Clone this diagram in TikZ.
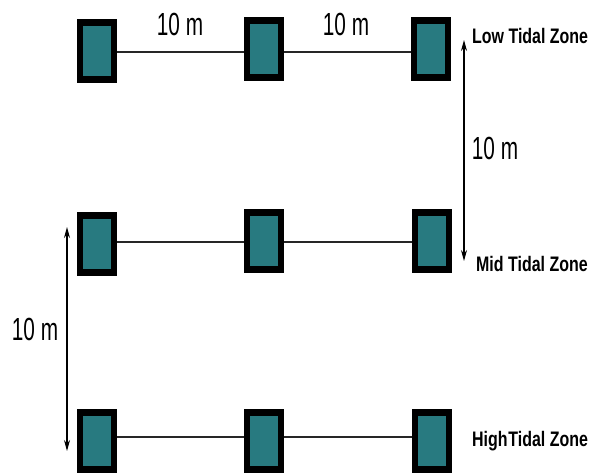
\documentclass[tikz,border=0pt]{standalone}
\usepackage{fontspec}
\setmainfont{Liberation Sans}
\usetikzlibrary{arrows.meta}
\definecolor{teal1}{RGB}{40,122,128}
\begin{document}
\begin{tikzpicture}[x=1pt,y=-1pt,
  quad/.style={draw=black,line width=6.5pt,fill=teal1,minimum width=34pt,minimum height=57pt,inner sep=0pt},
  link/.style={line width=1.8pt,draw=black!85},
  dim/.style={line width=1.3pt,{Stealth[length=11pt,width=6pt]}-{Stealth[length=11pt,width=6pt]}},
  meas/.style={inner sep=0pt,font=\fontsize{32}{32}\selectfont},
  zone/.style={inner sep=0pt,anchor=west,font=\fontsize{21}{21}\selectfont\bfseries}]
\useasboundingbox (0,0) rectangle (600,475);
% row 1
\node[quad] (a1) at (97,51) {};
\node[quad] (a2) at (264,49) {};
\node[quad] (a3) at (431,49) {};
% row 2
\node[quad] (b1) at (97,244) {};
\node[quad] (b2) at (264,241) {};
\node[quad] (b3) at (432,241) {};
% row 3
\node[quad] (c1) at (97,441) {};
\node[quad] (c2) at (264,441) {};
\node[quad] (c3) at (432,441) {};
% connectors
\draw[link] (a1.east |- 0,52) -- (a2.west |- 0,52);
\draw[link] (a2.east |- 0,52) -- (a3.west |- 0,52);
\draw[link] (b1.east |- 0,242) -- (b2.west |- 0,242);
\draw[link] (b2.east |- 0,242) -- (b3.west |- 0,242);
\draw[link] (c1.east |- 0,437) -- (c2.west |- 0,437);
\draw[link] (c2.east |- 0,437) -- (c3.west |- 0,437);
% labels
\node[meas] (m1) at (180,24) {\scalebox{0.65}[1]{10 m}};
\node[meas] (m2) at (346,24) {\scalebox{0.65}[1]{10 m}};
\node[meas] (m3) at (495,148) {\scalebox{0.65}[1]{10 m}};
\node[meas] (m4) at (35,329) {\scalebox{0.65}[1]{10 m}};
\node[zone] (z1) at (472,36) {\scalebox{0.76}[1]{Low Tidal Zone}};
\node[zone] (z2) at (476,264) {\scalebox{0.76}[1]{Mid Tidal Zone}};
\node[zone] (z3) at (472,441) {\scalebox{0.76}[1]{High\kern1ptTidal Zone}};
% dimension arrows
\coordinate (r1) at (464,40);
\coordinate (r2) at (464,261);
\coordinate (l1) at (67,227);
\coordinate (l2) at (67,451);
\draw[dim] (r1) -- (r2);
\draw[dim] (l1) -- (l2);
\end{tikzpicture}
\end{document}
